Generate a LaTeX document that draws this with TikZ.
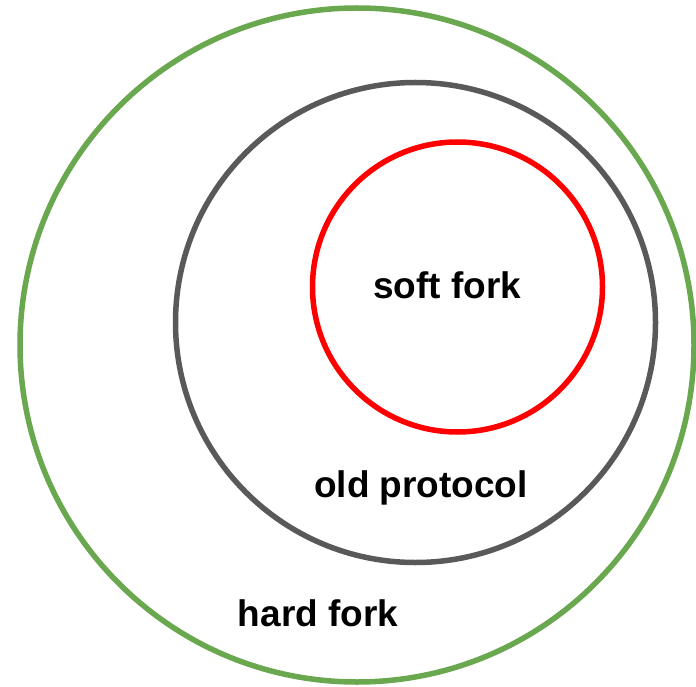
\documentclass[tikz,border=0pt]{standalone}
\usepackage{fontspec}
\setmainfont{Liberation Sans}
\definecolor{ringgreen}{HTML}{6AA84F}
\definecolor{ringgray}{HTML}{595959}
\definecolor{ringred}{HTML}{FF0000}
\begin{document}
\begin{tikzpicture}[x=1pt,y=-1pt,
  ring/.style={line width=5.5pt},
  lbl/.style={font=\fontsize{37}{40}\selectfont\bfseries, anchor=base, inner sep=0pt}]
\useasboundingbox (0,0) rectangle (696,687);
\draw[ring, ringgreen] (357,345) circle[radius=337];
\draw[ring, ringgray] (415.5,322.5) circle[radius=240];
\draw[ring, ringred] (457.5,287) circle[radius=145];
\node[lbl] (soft) at (447,298) {soft fork};
\node[lbl] (old) at (421,497) {old protocol};
\node[lbl] (hard) at (318,626) {hard fork};
\end{tikzpicture}
\end{document}
